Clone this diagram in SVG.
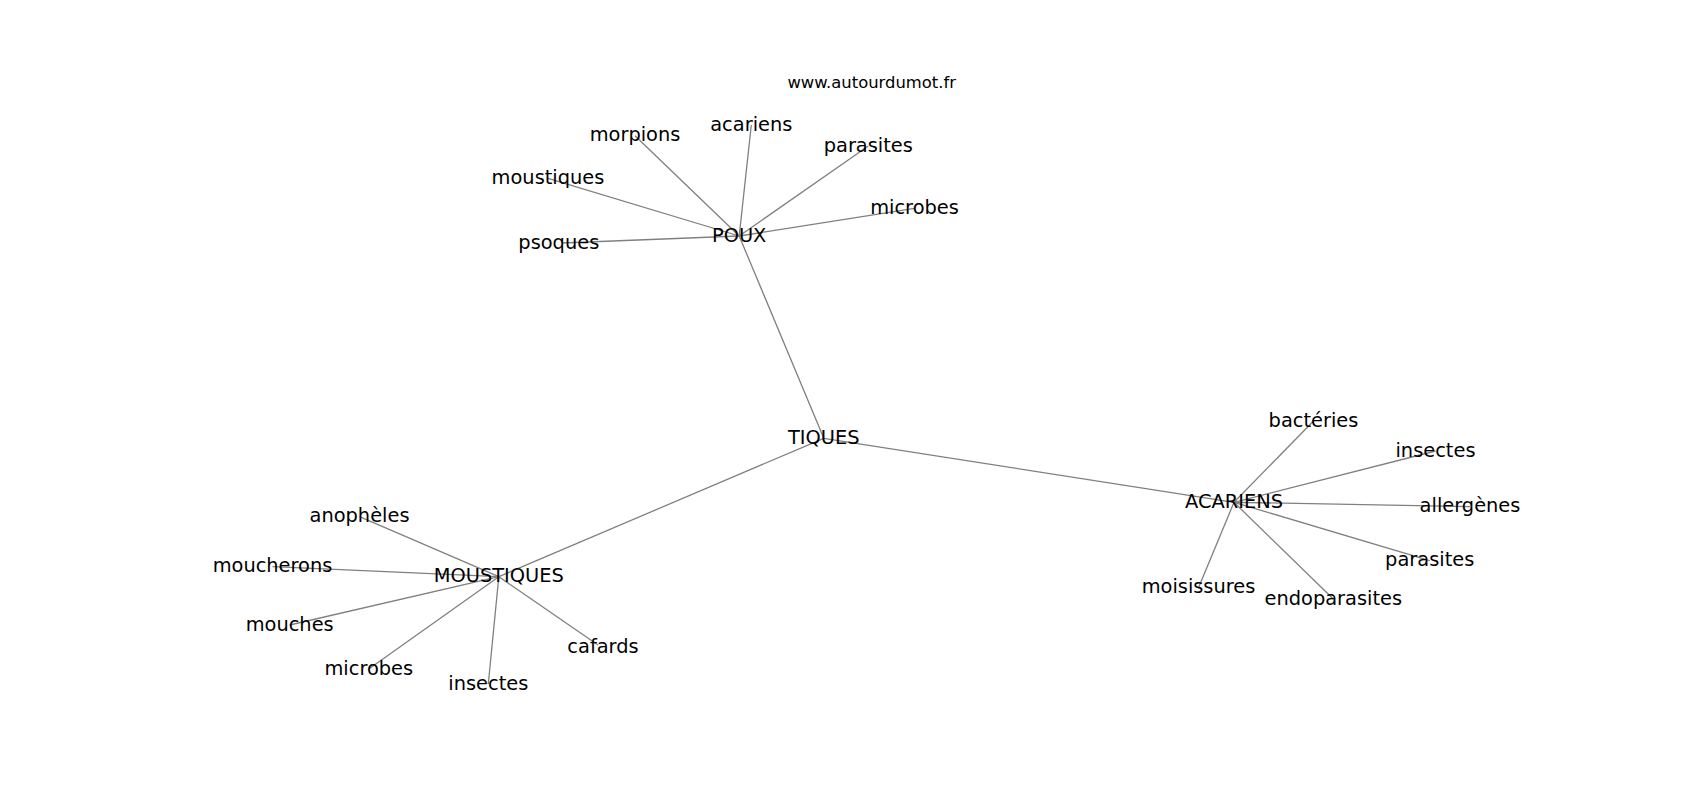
<svg xmlns="http://www.w3.org/2000/svg" width="1700" height="800" viewBox="0 0 1700 800">
<style>
text{font-family:"DejaVu Sans","Noto Sans",sans-serif;font-size:19.4px;fill:#000;text-anchor:middle}
.wm{font-size:16.4px}
#edges line{stroke:#808080;stroke-width:1.3}
</style>
<rect width="1700" height="800" fill="#fff"/>
<g id="edges">
<line x1="823.8" y1="438.3" x2="739.2" y2="236"/>
<line x1="823.8" y1="438.3" x2="498.8" y2="576.7"/>
<line x1="823.8" y1="438.3" x2="1234" y2="502.3"/>
<line x1="739.2" y1="236" x2="751.3" y2="125"/>
<line x1="739.2" y1="236" x2="635" y2="135.7"/>
<line x1="739.2" y1="236" x2="868.3" y2="146"/>
<line x1="739.2" y1="236" x2="548" y2="178.3"/>
<line x1="739.2" y1="236" x2="914.5" y2="208.3"/>
<line x1="739.2" y1="236" x2="562" y2="243"/>
<line x1="498.8" y1="576.7" x2="359.5" y2="516.7"/>
<line x1="498.8" y1="576.7" x2="272.5" y2="566.7"/>
<line x1="498.8" y1="576.7" x2="289.7" y2="625"/>
<line x1="498.8" y1="576.7" x2="368.8" y2="669"/>
<line x1="498.8" y1="576.7" x2="488.3" y2="684"/>
<line x1="498.8" y1="576.7" x2="598" y2="645"/>
<line x1="1234" y1="502.3" x2="1313.5" y2="421"/>
<line x1="1234" y1="502.3" x2="1435.5" y2="451"/>
<line x1="1234" y1="502.3" x2="1470" y2="506.7"/>
<line x1="1234" y1="502.3" x2="1429.7" y2="560.7"/>
<line x1="1234" y1="502.3" x2="1198.5" y2="587.7"/>
<line x1="1234" y1="502.3" x2="1333.3" y2="599"/>
</g>
<text class="wm" x="871.7" y="88">www.autourdumot.fr</text>
<g id="n-tiques"><text x="823.8" y="444">TIQUES</text></g>
<g id="n-poux"><text x="739.2" y="241.7">POUX</text></g>
<g id="n-poux-acariens"><text x="751.3" y="130.7">acariens</text></g>
<g id="n-poux-morpions"><text x="635" y="141.4">morpions</text></g>
<g id="n-poux-parasites"><text x="868.3" y="151.7">parasites</text></g>
<g id="n-poux-moustiques"><text x="548" y="184">moustiques</text></g>
<g id="n-poux-microbes"><text x="914.5" y="214">microbes</text></g>
<g id="n-poux-psoques"><text x="558.8" y="249">psoques</text></g>
<g id="n-moustiques"><text x="498.8" y="582.4">MOUSTIQUES</text></g>
<g id="n-m-anopheles"><text x="359.5" y="522.4">anophèles</text></g>
<g id="n-m-moucherons"><text x="272.5" y="572.4">moucherons</text></g>
<g id="n-m-mouches"><text x="289.7" y="630.7">mouches</text></g>
<g id="n-m-microbes"><text x="368.8" y="674.7">microbes</text></g>
<g id="n-m-insectes"><text x="488.3" y="689.7">insectes</text></g>
<g id="n-m-cafards"><text x="603" y="653.4">cafards</text></g>
<g id="n-acariens"><text x="1234" y="508">ACARIENS</text></g>
<g id="n-a-bacteries"><text x="1313.5" y="426.7">bactéries</text></g>
<g id="n-a-insectes"><text x="1435.5" y="456.7">insectes</text></g>
<g id="n-a-allergenes"><text x="1470" y="512.4">allergènes</text></g>
<g id="n-a-parasites"><text x="1429.7" y="566.4">parasites</text></g>
<g id="n-a-moisissures"><text x="1198.5" y="593.4">moisissures</text></g>
<g id="n-a-endoparasites"><text x="1333.3" y="604.7">endoparasites</text></g>
</svg>
